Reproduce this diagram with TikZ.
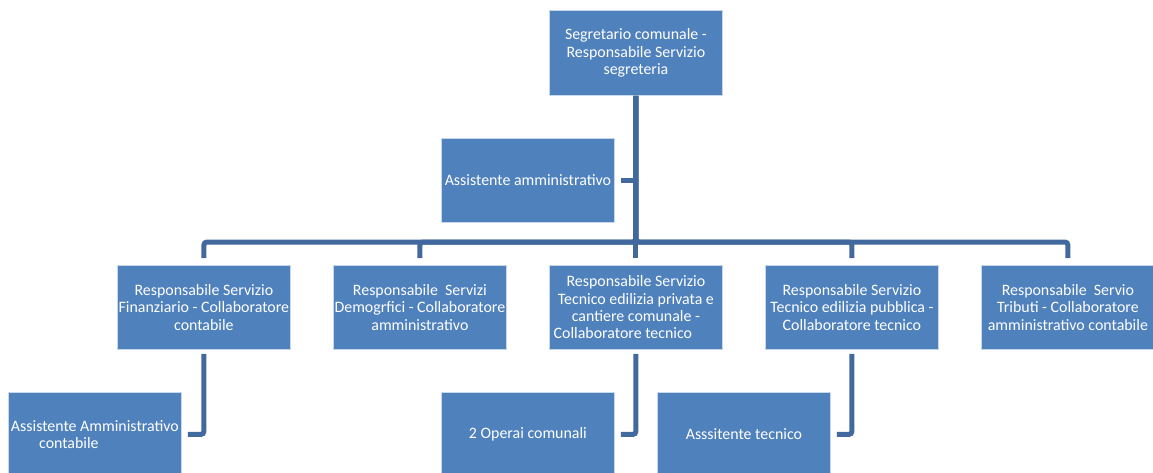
\documentclass[tikz,border=0pt]{standalone}
\usepackage{fontspec}
\setmainfont{Carlito}
\definecolor{boxblue}{RGB}{79,129,189}
\definecolor{linkblue}{RGB}{65,105,158}
\definecolor{edgeblue}{RGB}{200,215,235}
\begin{document}
\begin{tikzpicture}[x=1pt,y=-1pt,
  orgbox/.style={fill=boxblue, draw=edgeblue, line width=0.8pt, minimum width=173pt, minimum height=84pt, inner sep=0.5pt, anchor=north west, align=center, text=white, font=\fontsize{15.9}{17.4}\selectfont},
  link/.style={draw=linkblue, line width=5pt, rounded corners=3pt}]
\useasboundingbox (0,0) rectangle (1153,472);
\clip (0,0) rectangle (1153,472);
\node[orgbox, minimum height=85pt] (top) at (549,10) {Segretario comunale -\\Responsabile Servizio\\segreteria};
\node[orgbox] (asst) at (441,138) {Assistente amministrativo};
\node[orgbox] (r1) at (117,265) {Responsabile Servizio\\Finanziario - Collaboratore\\contabile};
\node[orgbox] (r2) at (333,265) {Responsabile\ \ Servizi\\Demogrfici - Collaboratore\\amministrativo};
\node[orgbox] (r3) at (549,265) {Responsabile Servizio\\Tecnico edilizia privata e\\cantiere comunale -\\\hspace*{-26pt}Collaboratore tecnico};
\node[orgbox] (r4) at (765,265) {Responsabile Servizio\\Tecnico edilizia pubblica -\\Collaboratore tecnico};
\node[orgbox] (r5) at (981,265) {Responsabile\ \ Servio\\Tributi - Collaboratore\\amministrativo contabile};
\node[orgbox] (s1) at (8,392) {Assistente Amministrativo\\\hspace*{-52pt}contabile};
\node[orgbox] (s3) at (441,392) {2 Operai comunali};
\node[orgbox] (s4) at (657,392) {Asssitente tecnico};
\coordinate (bus) at (0,242);
% trunk and bus
\draw[link, shorten >=7pt] (top.south) -- (r3.north);
\draw[link, shorten >=6pt] (top.south |- asst.east) -- (asst.east);
\foreach \r in {r1,r2,r4,r5}
  \draw[link, shorten >=7pt] (top.south) -- (top.south |- bus) -| (\r.north);
% sub connectors
\draw[link, shorten <=4pt, shorten >=6pt] (r1.south) |- (s1.east);
\draw[link, shorten <=4pt, shorten >=6pt] (r3.south) |- (s3.east);
\draw[link, shorten <=4pt, shorten >=6pt] (r4.south) |- (s4.east);
\end{tikzpicture}
\end{document}
